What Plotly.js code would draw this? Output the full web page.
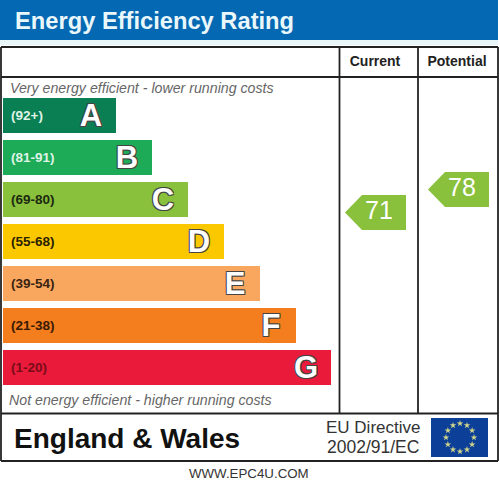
<!DOCTYPE html>
<html><head><meta charset="utf-8">
<script src="https://cdn.plot.ly/plotly-3.0.1.min.js"></script>
<style>html,body{margin:0;padding:0;background:#fff}#c{width:500px;height:482px}</style>
</head><body><div id="c"></div>
<script>
// Data
const bands = ['A','B','C','D','E','F','G'];
const ranges = ['(92+)','(81-91)','(69-80)','(55-68)','(39-54)','(21-38)','(1-20)'];
const bandLengths = [113,149,185,221,257,293,328];
const bandColors = ['#0b7f54','#1dab58','#89c03c','#fbc800','#f9a75f','#f47e1e','#ea1a3b'];
const rangeColors = ['#dff3e6','#dff3e6','#1c2a10','#2a2200','#3a2410','#3a1a05','#7a0c18'];
const ratingLabels = ['Current','Potential'];
const ratingValues = [71,78];
const ratingRight = [406,489];
const ratingHeaderX = [375,457];
const ratingColor = '#89c03c';

const W=500,H=482,ink='#222';
const BASE=3;
const rectS=(x0,y0,x1,y1,fill)=>({type:'rect',xref:'x',yref:'y',x0,y0,x1,y1,fillcolor:fill,line:{width:0},layer:'below'});
const lineS=(x0,y0,x1,y1)=>({type:'line',xref:'x',yref:'y',x0,y0,x1,y1,line:{color:ink,width:1.8},layer:'above'});
const note=(x,y,text,size,color)=>({xref:'x',yref:'y',x,y,text,showarrow:false,xanchor:'left',yanchor:'middle',
  font:{family:'"Liberation Sans",Arial,sans-serif',size,color}});
const bandAxis=(shift)=>({type:'category',categoryorder:'array',categoryarray:bands,range:[bands.length-0.5,-0.5],visible:false,fixedrange:true,
   domain:[1-(388.5+shift)/H,1-(94.5+shift)/H],anchor:'x'});

const hours=[0,1,2,3,4,5,6,7,8,9,10,11];
const starX=hours.map(h=>460+14*Math.sin(h*Math.PI/6));
const starY=hours.map(h=>437.5-14*Math.cos(h*Math.PI/6));

const traces=[
 {type:'bar',orientation:'h',y:bands,x:bandLengths,base:bands.map(()=>BASE),xaxis:'x',yaxis:'y2',
  marker:{color:bandColors,line:{width:0}},hoverinfo:'skip',showlegend:false},
 {type:'scatter',mode:'text',y:bands,x:bands.map(()=>11),text:ranges,textposition:'middle right',xaxis:'x',yaxis:'y5',
  textfont:{family:'"Liberation Sans",Arial,sans-serif',size:13.5,weight:'bold',color:rangeColors},hoverinfo:'skip',showlegend:false},
 {type:'scatter',mode:'text',y:bands,x:bandLengths.map(v=>v+BASE-25),text:bands,textposition:'middle center',xaxis:'x',yaxis:'y4',
  textfont:{family:'"Liberation Sans",Arial,sans-serif',size:31,weight:'bold',color:'#fff',
   shadow:'1px 1px 0 #444,-1px 1px 0 #444,1px -1px 0 #444,-1px -1px 0 #444'},hoverinfo:'skip',showlegend:false},
 {type:'scatter',mode:'text',y:ratingValues,x:ratingRight.map(v=>v-27),text:ratingValues.map(String),textposition:'middle center',xaxis:'x',yaxis:'y3',
  textfont:{family:'"Liberation Sans",Arial,sans-serif',size:25,color:'#fff'},hoverinfo:'skip',showlegend:false},
 {type:'scatter',mode:'markers',x:starX,y:starY,xaxis:'x',yaxis:'y',
  marker:{symbol:'star',size:5,color:'#cfd58a',line:{width:0}},hoverinfo:'skip',showlegend:false},
 {type:'scatter',mode:'text',x:ratingHeaderX,y:ratingLabels.map(()=>62),text:ratingLabels,textposition:'middle center',xaxis:'x',yaxis:'y',
  textfont:{family:'"Liberation Sans",Arial,sans-serif',size:14,weight:'bold',color:'#222'},hoverinfo:'skip',showlegend:false}
];

const pointer=ratingValues.map((v,i)=>({type:'path',xref:'x',yref:'y3',xsizemode:'pixel',ysizemode:'pixel',
  xanchor:ratingRight[i],yanchor:v,path:'M -61 0 L -44 17.5 L 0 17.5 L 0 -17.5 L -44 -17.5 Z',
  fillcolor:ratingColor,line:{width:0},layer:'below'}));

const layout={
 width:W,height:H,margin:{l:0,r:0,t:0,b:0},paper_bgcolor:'#fff',plot_bgcolor:'rgba(0,0,0,0)',showlegend:false,
 bargap:0.167,
 xaxis:{range:[0,W],visible:false,fixedrange:true,domain:[0,1]},
 yaxis:{range:[H,0],visible:false,fixedrange:true,domain:[0,1]},
 yaxis2:bandAxis(0),
 yaxis3:{range:[-11,135.67],visible:false,fixedrange:true,domain:[0,1],anchor:'x'},
 yaxis4:bandAxis(3),
 yaxis5:bandAxis(1),
 shapes:[
  rectS(0,0,498,40,'#0468b3'),
  rectS(0,40,498,45,'#e8f5f9'),
  rectS(431,418,488,457,'#0c3f97'),
  lineS(1,47,498,47),lineS(1,77,498,77),lineS(1,413.5,498,413.5),lineS(1,461,498,461),
  lineS(1,47,1,461),lineS(498,47,498,461),
  lineS(339.5,47,339.5,413.5),lineS(418,47,418,413.5),
  ...pointer
 ],
 annotations:[
  note(13,21,'<b>Energy Efficiency Rating</b>',23.7,'#e9f7fb'),
  note(8,87.5,'<i>Very energy efficient - lower running costs</i>',14.2,'#666'),
  note(7,400,'<i>Not energy efficient - higher running costs</i>',14.2,'#666'),
  note(12,438,'<b>England &amp; Wales</b>',28,'#111'),
  note(324,427,'EU Directive',17,'#333'),
  note(325,447,'2002/91/EC',17.5,'#333'),
  note(187,473.5,'WWW.EPC4U.COM',13.3,'#333')
 ]
};
Plotly.newPlot('c',traces,layout,{displayModeBar:false,staticPlot:true});
</script></body></html>
